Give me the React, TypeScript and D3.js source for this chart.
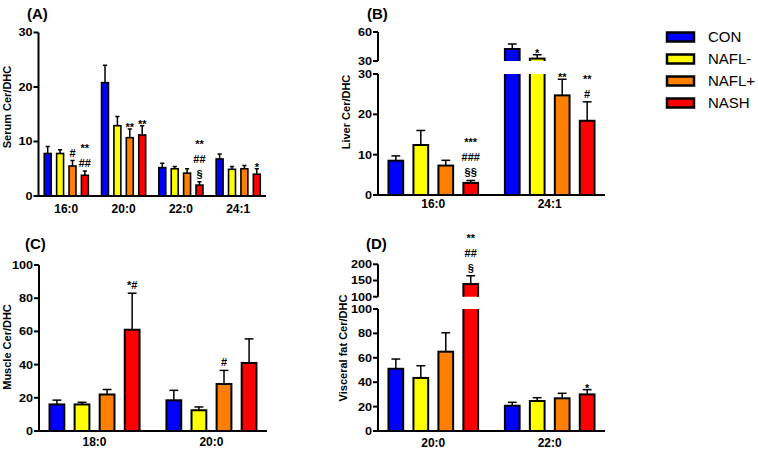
import React from 'react';
import * as d3 from 'd3';

// ---------- DATA ----------
const seriesNames = ['CON', 'NAFL-', 'NAFL+', 'NASH'];
const seriesColors = ['#0000ff', '#ffff00', '#ff8000', '#ff0000'];

// (A) Serum
const serumCategories = ['16:0', '20:0', '22:0', '24:1'];
const serumMeans = [
  [7.8, 7.8, 5.5, 3.8],
  [20.8, 12.9, 10.7, 11.2],
  [5.2, 5.0, 4.2, 2.0],
  [6.8, 4.9, 5.0, 4.0],
];
const serumSem = [
  [1.3, 0.7, 1.0, 0.8],
  [3.2, 1.7, 1.6, 1.7],
  [0.8, 0.4, 0.8, 0.6],
  [0.9, 0.5, 0.6, 1.0],
];
const serumTicks = [0, 10, 20, 30];
const serumMarks = [
  { cat: '16:0', s: 2, lines: ['#'] },
  { cat: '16:0', s: 3, lines: ['**', '##'] },
  { cat: '20:0', s: 2, lines: ['**'] },
  { cat: '20:0', s: 3, lines: ['**'] },
  { cat: '22:0', s: 3, lines: ['**', '##', '§'] },
  { cat: '24:1', s: 3, lines: ['*'] },
];

// (B) Liver
const liverCategories = ['16:0', '24:1'];
const liverMeans = [
  [8.5, 12.4, 7.3, 3.0],
  [42.4, 32.5, 24.7, 18.4],
];
const liverSem = [
  [1.2, 3.6, 1.3, 0.6],
  [5.2, 4.0, 4.0, 4.7],
];
const liverTicksLower = [0, 10, 20, 30];
const liverTicksUpper = [30, 60];
const liverMarks = [
  { cat: '16:0', s: 3, lines: ['***', '###', '§§'] },
  { cat: '24:1', s: 1, lines: ['*'] },
  { cat: '24:1', s: 2, lines: ['**'] },
  { cat: '24:1', s: 3, lines: ['**', '#'] },
];

// (C) Muscle
const muscleCategories = ['18:0', '20:0'];
const muscleMeans = [
  [16, 16, 22, 61],
  [18.5, 12.5, 28.3, 41],
];
const muscleSem = [
  [2.6, 1.3, 3.0, 22],
  [6.0, 2.0, 8.2, 14.5],
];
const muscleTicks = [0, 20, 40, 60, 80, 100];
const muscleMarks = [
  { cat: '18:0', s: 3, lines: ['*#'] },
  { cat: '20:0', s: 2, lines: ['#'] },
];

// (D) Visceral fat
const fatCategories = ['20:0', '22:0'];
const fatMeans = [
  [51, 43.5, 65, 139],
  [20.7, 24.6, 26.8, 30],
];
const fatSem = [
  [8, 10, 15.5, 26],
  [2.8, 2.7, 4.1, 3.9],
];
const fatTicksLower = [0, 20, 40, 60, 80, 100];
const fatTicksUpper = [100, 150, 200];
const fatMarks = [
  { cat: '20:0', s: 3, lines: ['**', '##', '§'] },
  { cat: '22:0', s: 3, lines: ['*'] },
];

// ---------- LAYOUT ----------
const FONT = '"Liberation Sans", Arial, Helvetica, sans-serif';

type Seg = { domain: [number, number]; range: [number, number]; ticks: number[] };
type PanelCfg = {
  id: string;
  title: string;
  titlePos: [number, number];
  yLabel: string;
  yLabelPos: [number, number];
  categories: string[];
  means: number[][];
  sem: number[][];
  marks: { cat: string; s: number; lines: string[] }[];
  xRange: [number, number];
  outerPad: number;
  innerPad: number;
  segs: Seg[];
  labelDy: number;
  barStroke: number;
};

const panels: PanelCfg[] = [
  {
    id: 'A', title: '(A)', titlePos: [27, 19], yLabel: 'Serum Cer/DHC', yLabelPos: [7, 107],
    categories: serumCategories, means: serumMeans, sem: serumSem, marks: serumMarks,
    xRange: [38.5, 266], outerPad: 0.1, innerPad: 0.44,
    segs: [{ domain: [0, 30], range: [196, 32.5], ticks: serumTicks }],
    labelDy: 17, barStroke: 1.6,
  },
  {
    id: 'B', title: '(B)', titlePos: [367, 19], yLabel: 'Liver Cer/DHC', yLabelPos: [346, 112],
    categories: liverCategories, means: liverMeans, sem: liverSem, marks: liverMarks,
    xRange: [378, 605], outerPad: 0.09, innerPad: 0.41,
    segs: [
      { domain: [0, 30], range: [195, 74], ticks: liverTicksLower },
      { domain: [30, 60], range: [61, 32], ticks: liverTicksUpper },
    ],
    labelDy: 13, barStroke: 2,
  },
  {
    id: 'C', title: '(C)', titlePos: [25, 249], yLabel: 'Muscle Cer/DHC', yLabelPos: [7, 347],
    categories: muscleCategories, means: muscleMeans, sem: muscleSem, marks: muscleMarks,
    xRange: [39, 267], outerPad: 0.09, innerPad: 0.41,
    segs: [{ domain: [0, 100], range: [431, 265], ticks: muscleTicks }],
    labelDy: 15, barStroke: 2,
  },
  {
    id: 'D', title: '(D)', titlePos: [366, 249], yLabel: 'Visceral fat Cer/DHC', yLabelPos: [343.5, 348],
    categories: fatCategories, means: fatMeans, sem: fatSem, marks: fatMarks,
    xRange: [378, 605], outerPad: 0.09, innerPad: 0.41,
    segs: [
      { domain: [0, 100], range: [431, 309], ticks: fatTicksLower },
      { domain: [100, 200], range: [296.7, 264.3], ticks: fatTicksUpper },
    ],
    labelDy: 16, barStroke: 2,
  },
];

function Panel({ cfg }: { cfg: PanelCfg }) {
  const x0 = d3.scaleBand<string>().domain(cfg.categories).range(cfg.xRange)
    .paddingInner(0.23).paddingOuter(cfg.outerPad);
  const x1 = d3.scaleBand<number>().domain(d3.range(seriesNames.length))
    .range([0, x0.bandwidth()]).paddingInner(cfg.innerPad);
  const bw = x1.bandwidth();
  const axisX = cfg.xRange[0];
  const scales = cfg.segs.map((s) => d3.scaleLinear().domain(s.domain).range(s.range));
  const nSeg = cfg.segs.length;
  const bottom = cfg.segs[0].range[0];

  const segFor = (v: number) => {
    for (let i = 0; i < nSeg; i++) {
      if (v <= cfg.segs[i].domain[1] || i === nSeg - 1) return i;
    }
    return nSeg - 1;
  };

  return (
    <g>
      <defs>
        {cfg.segs.map((s, i) => {
          const top = i === nSeg - 1 ? 0 : s.range[1];
          const bot = i === 0 ? s.range[0] + 3 : s.range[0];
          return (
            <clipPath id={`clip-${cfg.id}-${i}`} key={i}>
              <rect x={axisX} y={top} width={cfg.xRange[1] - axisX + 10} height={bot - top} />
            </clipPath>
          );
        })}
      </defs>

      {/* bars and error bars per segment */}
      {cfg.segs.map((s, si) => {
        const y = scales[si];
        return (
          <g key={si} clipPath={`url(#clip-${cfg.id}-${si})`}>
            {cfg.categories.map((cat, ci) =>
              seriesNames.map((_, k) => {
                const m = cfg.means[ci][k];
                const e = m + cfg.sem[ci][k];
                const bx = (x0(cat) as number) + (x1(k) as number);
                const cx = bx + bw / 2;
                const capW = bw * 0.6;
                return (
                  <g key={`${ci}-${k}`}>
                    <line x1={cx} x2={cx} y1={y(m)} y2={y(e)} stroke="#000" strokeWidth={1.5} />
                    <line x1={cx - capW / 2} x2={cx + capW / 2} y1={y(e)} y2={y(e)} stroke="#000" strokeWidth={1.5} />
                    <rect x={bx} y={y(m)} width={bw} height={Math.max(0, y(0) - y(m))}
                      fill={seriesColors[k]} stroke="#000" strokeWidth={cfg.barStroke} />
                  </g>
                );
              })
            )}
          </g>
        );
      })}

      {/* y axis segments */}
      {cfg.segs.map((s, si) => {
        const y = scales[si];
        return (
          <g key={`ax${si}`}>
            <line x1={axisX} x2={axisX} y1={s.range[0] + (si === 0 ? 1 : 0)} y2={s.range[1]} stroke="#000" strokeWidth={2} />
            {s.ticks.map((t) => (
              <g key={t}>
                <line x1={axisX - 5} x2={axisX} y1={y(t)} y2={y(t)} stroke="#000" strokeWidth={2} />
                <text transform={`translate(${axisX - 6},${y(t)}) scale(1.15,1)`} dy="0.36em" textAnchor="end"
                  fontFamily={FONT} fontWeight="bold" fontSize={11}>{t}</text>
              </g>
            ))}
          </g>
        );
      })}

      {/* x axis */}
      <line x1={axisX - 1} x2={cfg.xRange[1]} y1={bottom} y2={bottom} stroke="#000" strokeWidth={2} />
      {cfg.categories.map((cat) => (
        <text key={cat} x={(x0(cat) as number) + x0.bandwidth() / 2} y={bottom + cfg.labelDy}
          textAnchor="middle" fontFamily={FONT} fontWeight="bold" fontSize={12}>{cat}</text>
      ))}

      {/* significance marks */}
      {cfg.marks.map((mk, i) => {
        const ci = cfg.categories.indexOf(mk.cat);
        const e = cfg.means[ci][mk.s] + cfg.sem[ci][mk.s];
        const si = segFor(e);
        const ey = scales[si](e);
        const cx = (x0(mk.cat) as number) + (x1(mk.s) as number) + bw / 2;
        const n = mk.lines.length;
        return (
          <g key={i}>
            {mk.lines.map((ln, li) => {
              const fromBottom = n - 1 - li;
              const onlyStars = /^\*+$/.test(mk.lines[n - 1]);
              const baseY = onlyStars ? ey + 2 : ey - 4;
              return (
                <text key={li} x={cx} y={baseY - fromBottom * 15} textAnchor="middle"
                  fontFamily={FONT} fontWeight="bold" fontSize={11}>{ln}</text>
              );
            })}
          </g>
        );
      })}

      {/* titles */}
      <text x={cfg.titlePos[0]} y={cfg.titlePos[1]} fontFamily={FONT} fontWeight="bold" fontSize={15}>{cfg.title}</text>
      <text transform={`translate(${cfg.yLabelPos[0]},${cfg.yLabelPos[1]}) rotate(-90)`} dy="0.35em"
        textAnchor="middle" fontFamily={FONT} fontWeight="bold" fontSize={11}>{cfg.yLabel}</text>
    </g>
  );
}

const legendY = d3.scalePoint<string>().domain(seriesNames).range([37, 103]);

export default function App() {
  return (
    <svg width={758} height={456} style={{ position: 'absolute', left: 0, top: 0, background: '#fff' }}>
      <rect x={0} y={0} width={758} height={456} fill="#fff" />
      {panels.map((p) => <Panel key={p.id} cfg={p} />)}
      <g>
        {seriesNames.map((s, i) => (
          <g key={s}>
            <rect x={667} y={(legendY(s) as number) - 4.5} width={27} height={9} fill={seriesColors[i]}
              stroke="#000" strokeWidth={2.5} />
            <text x={708} y={legendY(s) as number} dy="0.36em" fontFamily={FONT} fontSize={15}>{s}</text>
          </g>
        ))}
      </g>
    </svg>
  );
}
